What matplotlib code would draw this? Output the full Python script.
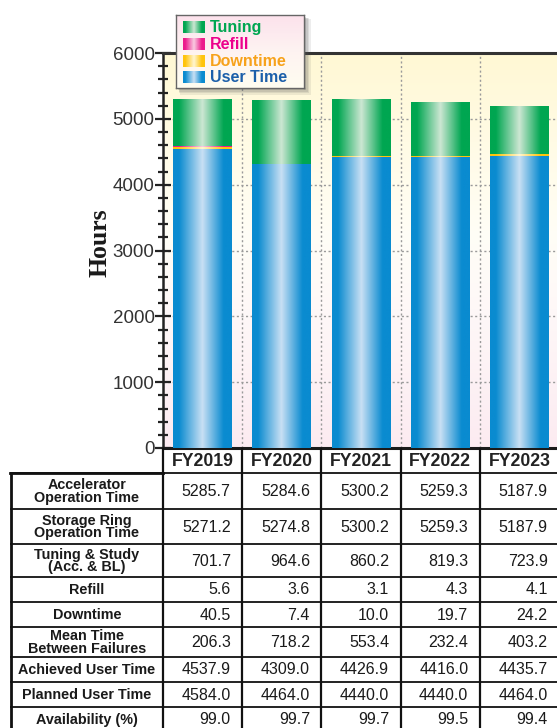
import numpy as np
import matplotlib
matplotlib.use("Agg")
import matplotlib.pyplot as plt
from matplotlib.colors import LinearSegmentedColormap
from matplotlib.patches import Rectangle
from matplotlib.ticker import MultipleLocator
import matplotlib.transforms as mtrans

# ---------------- data ----------------
years = ["FY2019", "FY2020", "FY2021", "FY2022", "FY2023"]
accel_op = [5285.7, 5284.6, 5300.2, 5259.3, 5187.9]
ring_op = [5271.2, 5274.8, 5300.2, 5259.3, 5187.9]
tuning = [701.7, 964.6, 860.2, 819.3, 723.9]
refill = [5.6, 3.6, 3.1, 4.3, 4.1]
downtime = [40.5, 7.4, 10.0, 19.7, 24.2]
mtbf = [206.3, 718.2, 553.4, 232.4, 403.2]
achieved = [4537.9, 4309.0, 4426.9, 4416.0, 4435.7]
planned = [4584.0, 4464.0, 4440.0, 4440.0, 4464.0]
availability = [99.0, 99.7, 99.7, 99.5, 99.4]

row_labels = ["Accelerator\nOperation Time", "Storage Ring\nOperation Time",
              "Tuning & Study\n(Acc. & BL)", "Refill", "Downtime",
              "Mean Time\nBetween Failures", "Achieved User Time",
              "Planned User Time", "Availability (%)"]
row_values = [accel_op, ring_op, tuning, refill, downtime, mtbf,
              achieved, planned, availability]

legend_labels = ["Tuning", "Refill", "Downtime", "User Time"]
y_ticks = [0, 1000, 2000, 3000, 4000, 5000, 6000]

# ---------------- styles ----------------
SANS = ["Liberation Sans", "DejaVu Sans"]
BLUE = ("#0A8BD0", "#C9E0F4")
YELLOW = ("#FFC40C", "#FFF6D2")
MAGENTA = ("#EC1C8C", "#F9CCE1")
GREEN = ("#00A651", "#CDE7D3")
legend_text_colors = ["#00A651", "#EC008C", "#F7A21B", "#1C5FAA"]
legend_swatches = [GREEN, MAGENTA, YELLOW, BLUE]

W, H = 557, 728
fig = plt.figure(figsize=(W / 100, H / 100), dpi=100)
fig.patch.set_facecolor("white")


def cmap_for(pair):
    edge, light = pair
    return LinearSegmentedColormap.from_list(
        "g", [(0, edge), (0.1, edge), (0.5, light), (0.86, edge), (1, edge)])


hgrad = np.linspace(0, 1, 256)[None, :]

# ---------------- main axes ----------------
ax_top, ax_bot = 53, 448
ax = fig.add_axes([163 / W, 1 - ax_bot / H, (559 - 163) / W, (ax_bot - ax_top) / H])
x = np.arange(len(years))

# background gradient
bg_cmap = LinearSegmentedColormap.from_list(
    "bg", [(0, "#FCEBF1"), (0.35, "#FEF8F8"), (0.55, "#FFFEF6"), (1, "#FFF8D4")])
ax.imshow(np.linspace(0, 1, 256)[:, None], extent=[-0.5, 4.5, 0, 6000],
          origin="lower", cmap=bg_cmap, aspect="auto", zorder=0)

# grid
for yt in y_ticks[1:-1]:
    ax.axhline(yt, color="#9a9a9a", lw=1.0, ls=(0, (1.5, 1.8)), zorder=1)
for xb in x[:-1] + 0.5:
    ax.axvline(xb, color="#9a9a9a", lw=1.0, ls=(0, (1.5, 1.8)), zorder=1)

# stacked gradient bars
series = [(achieved, BLUE), (downtime, YELLOW), (refill, MAGENTA), (tuning, GREEN)]
bottom = np.zeros(len(years))
for vals, pair in series:
    vals = np.asarray(vals)
    bars = ax.bar(x, vals, width=0.74, bottom=bottom, color="none",
                  edgecolor="none", zorder=3)
    cm = cmap_for(pair)
    for p in bars:
        ax.imshow(hgrad, extent=[p.get_x(), p.get_x() + p.get_width(),
                                 p.get_y(), p.get_y() + p.get_height()],
                  cmap=cm, aspect="auto", interpolation="bilinear", zorder=3)
    bottom += vals

ax.set_xlim(-0.5, 4.5)
ax.set_ylim(0, 6000)
ax.set_yticks(y_ticks)
ax.yaxis.set_minor_locator(MultipleLocator(200))
ax.set_xticks([])
ax.tick_params(axis="y", which="major", direction="inout", length=11, width=1.6,
               color="#222222", labelsize=13.5, labelcolor="#333333", pad=0.5)
ax.tick_params(axis="y", which="minor", direction="inout", length=7, width=1.6,
               color="#222222")
for lbl in ax.get_yticklabels():
    lbl.set_family(SANS)
ax.spines["right"].set_visible(False)
ax.spines["left"].set_linewidth(1.8)
ax.spines["left"].set_color("#222222")
ax.spines["top"].set_linewidth(2.2)
ax.spines["top"].set_color("#333333")
ax.spines["bottom"].set_linewidth(2.2)
ax.spines["bottom"].set_color("#1a1a1a")

fig.text(100 / W, 1 - 243 / H, "Hours", rotation=90, ha="center", va="center",
         family=["Liberation Serif", "DejaVu Serif"], fontweight="bold",
         fontsize=18.5, color="#1a1a1a")

# ---------------- table ----------------
tax = fig.add_axes([0, 0, 1, 1])
tax.set_xlim(0, W)
tax.set_ylim(H, 0)
tax.axis("off")
bt = mtrans.blended_transform_factory(ax.transData, tax.transData)

row_heights = [36, 35, 33, 25, 25, 30, 25, 25, 25]
edges = [473]
for rh in row_heights:
    edges.append(edges[-1] + rh)

# header
for i, yr in enumerate(years):
    tax.text(i, 461, yr, transform=bt, ha="center", va="center",
             family=SANS, fontweight="bold", fontsize=12.7, color="#222222")

# vertical separators
for xb in np.arange(-0.5, 5.0, 1.0):
    tax.plot([xb, xb], [ax_bot, H + 5], transform=bt, color="#111111",
             lw=1.6, clip_on=False, solid_capstyle="butt")
# outer left border
tax.plot([11, 11], [edges[0] - 1, H + 5], color="#111111", lw=2.0,
         solid_capstyle="butt")
# horizontal lines
for ye in edges:
    tax.plot([10, W], [ye, ye], color="#111111", lw=1.3, solid_capstyle="butt")
tax.plot([10, 163], [edges[0], edges[0]], color="#111111", lw=2.0)

for r, (lab, vals) in enumerate(zip(row_labels, row_values)):
    yc = (edges[r] + edges[r + 1]) / 2
    tax.text(87, yc + 0.5, lab, ha="center", va="center", family=SANS,
             fontweight="bold", fontsize=10.4, color="#1a1a1a", linespacing=0.82)
    for i, v in enumerate(vals):
        tax.text(i + 0.355, yc + 0.5, f"{v:.1f}", transform=bt, ha="right",
                 va="center", family=SANS, fontsize=11.5, color="#1a1a1a")

# ---------------- legend ----------------
lx, ly, lw_, lh = 176, 15, 128, 73
for k, a in enumerate([0.10, 0.12, 0.15, 0.20]):
    off = 5 - k
    grow = 3 - k
    fig.patches.append(Rectangle(((lx + off - grow / 2) / W, 1 - (ly + lh + off + grow / 2) / H),
                                 (lw_ + grow) / W, (lh + grow) / H,
                                 transform=fig.transFigure, facecolor="#555555",
                                 edgecolor="none", alpha=a, zorder=1))
lax = fig.add_axes([lx / W, 1 - (ly + lh) / H, lw_ / W, lh / H], zorder=5)
lg_cmap = LinearSegmentedColormap.from_list("lg", ["#FCE2EC", "#FEF3F2", "#FFFDF0"])
lax.imshow(np.linspace(0, 1, 64)[:, None], extent=[0, lw_, lh, 0], origin="upper",
           cmap=lg_cmap, aspect="auto", zorder=0)
lax.set_xticks([])
lax.set_yticks([])
for s in lax.spines.values():
    s.set_color("#666666")
    s.set_linewidth(1.0)
for k, (lab, col, sw) in enumerate(zip(legend_labels, legend_text_colors, legend_swatches)):
    yc = 12 + k * 16.8
    lax.imshow(hgrad, extent=[7, 29, yc + 6, yc - 6], cmap=cmap_for(sw),
               aspect="auto", interpolation="bilinear", zorder=2)
    lax.text(34, yc + 0.5, lab, ha="left", va="center", family=SANS,
             fontweight="bold", fontsize=11.5, color=col)
lax.set_xlim(0, lw_)
lax.set_ylim(lh, 0)

fig.savefig("out.png", dpi=100)
